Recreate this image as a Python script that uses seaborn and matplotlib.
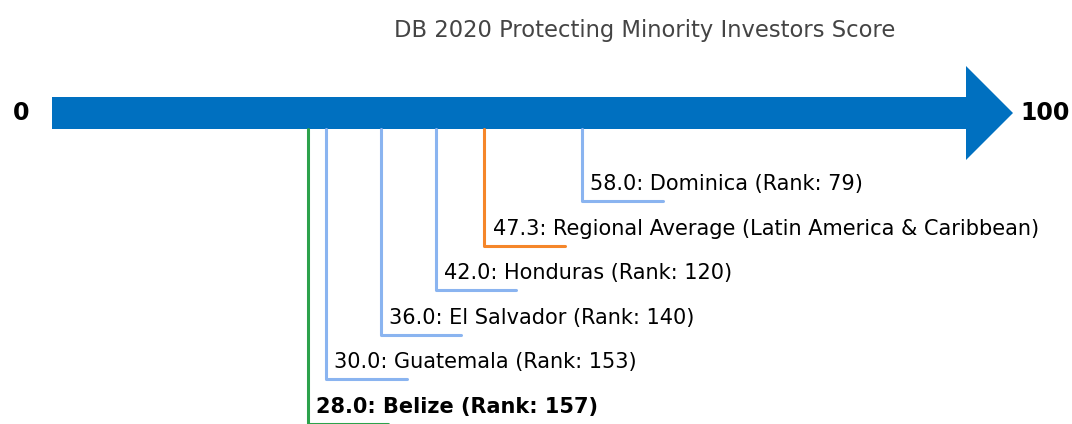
import matplotlib
matplotlib.use("Agg")
import matplotlib.pyplot as plt
from matplotlib.patches import FancyArrow
import seaborn as sns
import pandas as pd

# data
names = ["Dominica", "Regional Average (Latin America & Caribbean)", "Honduras",
         "El Salvador", "Guatemala", "Belize"]
scores = [58.0, 47.3, 42.0, 36.0, 30.0, 28.0]
ranks = [79, None, 120, 140, 153, 157]
kinds = ["peer", "avg", "peer", "peer", "peer", "focus"]

title = "DB 2020 Protecting Minority Investors Score"
colors = {"peer": "#8ab4f0", "avg": "#f5862a", "focus": "#2ca24c"}

sns.set_theme(style="white")
plt.rcParams['font.family'] = ['DejaVu Sans']

fig = plt.figure(figsize=(10.72, 4.24), dpi=100)
ax = fig.add_axes([0, 0, 1, 1])
px = 9.14  # pixels per score unit

# big arrow
head_len = 47 / px
ax.add_patch(FancyArrow(0, 113, 100 + head_len, 0, width=32, head_width=94,
                        head_length=head_len, length_includes_head=True,
                        color="#0070c0", lw=0))
ax.text(-3.4, 113, "0", ha="center", va="center", fontsize=17, fontweight="bold", color="black")
ax.text(106.0, 113, "100", ha="left", va="center", fontsize=17, fontweight="bold", color="black")
ax.text(64.8, 30, title, ha="center", va="center", fontsize=16.3, color="#444444")

# L-shaped leader lines
rows = []
for i, (n, s, k) in enumerate(zip(names, scores, kinds)):
    level = 201 + i * 44.6
    for j, (xx, yy) in enumerate([(s, 129), (s, level), (s + 8.8, level)]):
        rows.append({"id": n, "kind": k, "x": xx, "y": yy, "order": j})
df = pd.DataFrame(rows)
sns.lineplot(data=df, x="x", y="y", units="id", hue="kind", palette=colors,
             estimator=None, sort=False, lw=2.2, legend=False, ax=ax)
ax.set_xlim(-52 / px, (1072 - 52) / px)
ax.set_ylim(424, 0)
ax.axis("off")

for i, (n, s, r, k) in enumerate(zip(names, scores, ranks, kinds)):
    level = 201 + i * 44.6
    label = f"{s:.1f}: {n}" + (f" (Rank: {r})" if r is not None else "")
    ax.text(s + 0.9, level - 17, label, ha="left", va="center", fontsize=15,
            color="black", fontweight="bold" if k == "focus" else "normal")

fig.savefig("out.png", dpi=100)
